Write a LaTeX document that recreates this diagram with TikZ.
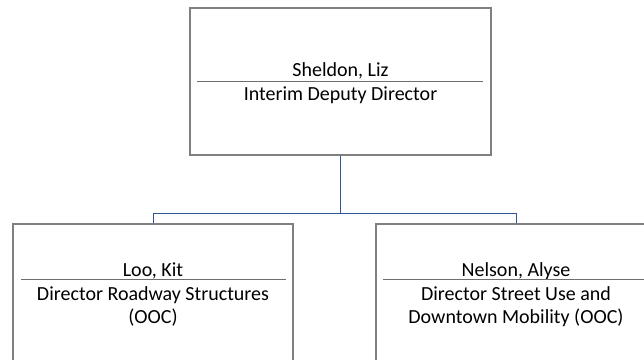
\documentclass[tikz,border=0pt]{standalone}
\usepackage{fontspec}
\setmainfont{Carlito}
\usepackage{tikz}
\usetikzlibrary{positioning}
\definecolor{boxgray}{RGB}{128,128,128}
\definecolor{rulegray}{RGB}{110,110,110}
\definecolor{linkblue}{RGB}{47,85,151}

\begin{document}
\begin{tikzpicture}[x=1pt, y=-1pt,
    box/.style={rectangle, draw=boxgray, line width=1.2pt, minimum width=#1, minimum height=147pt, inner sep=0pt},
    label/.style={inner sep=0pt, anchor=base, font=\fontsize{20}{22.5}\selectfont, align=center},
    link/.style={draw=linkblue, line width=1pt}]
      \clip (0,0) rectangle (644,359);

      % boxes
      \node[box=301pt] (sheldon) at (340.5,81.5) {};
      \node[box=280pt] (loo) at (153,297.5) {};
      \node[box=280pt] (nelson) at (516,297.5) {};

      % names and titles (base of a two line title is its last line)
      \node[label] (sheldonname) at (340.5,76) {Sheldon, Liz};
      \node[label] (sheldontitle) at (340.5,100.7) {Interim Deputy Director};
      \draw[rulegray, line width=1.1pt] ([xshift=8pt]sheldon.west) -- ([xshift=-9pt]sheldon.east);

      \node[label] (looname) at (153,276) {Loo, Kit};
      \node[label] (lootitle) at (153,323.2) {Director Roadway Structures\\(OOC)};
      \draw[rulegray, line width=1.1pt] ([xshift=9pt,yshift=18pt]loo.west) -- ([xshift=-8pt,yshift=18pt]loo.east);

      \node[label] (nelsonname) at (516,276) {Nelson, Alyse};
      \node[label] (nelsontitle) at (516,323.2) {Director Street Use and\\Downtown Mobility (OOC)};
      \draw[rulegray, line width=1.1pt] ([xshift=8pt,yshift=18pt]nelson.west) -- ([xshift=-8pt,yshift=18pt]nelson.east);

      % connectors
      \coordinate (fork) at (340.5,213);
      \draw[link] (sheldon.south) -- (fork) -| (loo.north);
      \draw[link] (fork) -| (nelson.north);
    \end{tikzpicture}
\end{document}
